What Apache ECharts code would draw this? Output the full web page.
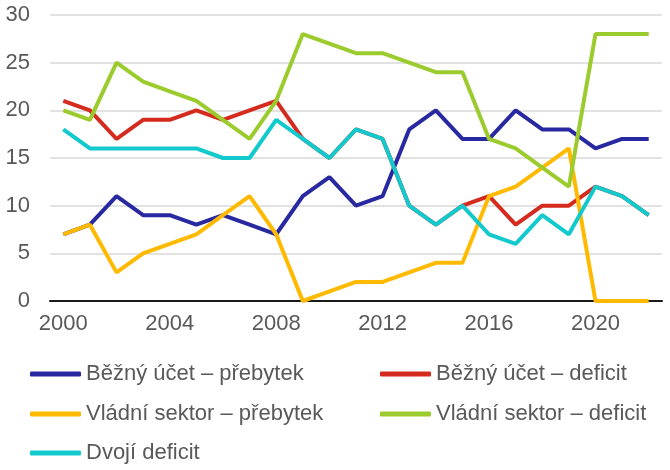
<!DOCTYPE html>
<html>
<head>
<meta charset="utf-8">
<script src="https://cdn.jsdelivr.net/npm/echarts@6/dist/echarts.min.js"></script>
<style>
  html, body { margin: 0; padding: 0; background: #fff; }
  #main { width: 670px; height: 470px; }
</style>
</head>
<body>
<div id="main"></div>
<script>
// roky 2000-2022
var years = ['2000','2001','2002','2003','2004','2005','2006','2007','2008','2009','2010','2011',
             '2012','2013','2014','2015','2016','2017','2018','2019','2020','2021','2022'];

// počty zemí
var bezUcetPrebytek = [7, 8, 11, 9, 9, 8, 9, 8, 7, 11, 13, 10, 11, 18, 20, 17, 17, 20, 18, 18, 16, 17, 17];
var bezUcetDeficit  = [21, 20, 17, 19, 19, 20, 19, 20, 21, 17, 15, 18, 17, 10, 8, 10, 11, 8, 10, 10, 12, 11, 9];
var vladPrebytek    = [7, 8, 3, 5, 6, 7, 9, 11, 7, 0, 1, 2, 2, 3, 4, 4, 11, 12, 14, 16, 0, 0, 0];
var vladDeficit     = [20, 19, 25, 23, 22, 21, 19, 17, 21, 28, 27, 26, 26, 25, 24, 24, 17, 16, 14, 12, 28, 28, 28];
var dvojiDeficit    = [18, 16, 16, 16, 16, 16, 15, 15, 19, 17, 15, 18, 17, 10, 8, 10, 7, 6, 9, 7, 12, 11, 9];

var names = ['Běžný účet – přebytek', 'Běžný účet – deficit', 'Vládní sektor – přebytek',
             'Vládní sektor – deficit', 'Dvojí deficit'];
var colors = ['#2828A0', '#D52B1E', '#FFBA00', '#9BCB2D', '#12C9CD'];
var values = [bezUcetPrebytek, bezUcetDeficit, vladPrebytek, vladDeficit, dvojiDeficit];

var font = 'Arial, "Liberation Sans", sans-serif';

var series = []
for (var i = 0; i < names.length; i++) {
    series.push({
        name: names[i],
        type: 'line',
        data: values[i],
        symbol: 'none',
        showSymbol: false,
        color: colors[i],
        lineStyle: {width: 4, color: colors[i]},
        animation: false
    })
}

// jedna položka legendy = jeden legend (2 sloupce)
var legendPos = [[30, 363], [380, 363], [30, 403], [380, 403], [30, 442]];
var legends = []
for (var j = 0; j < names.length; j++) {
    legends.push({
        left: legendPos[j][0],
        top: legendPos[j][1],
        padding: 0,
        itemWidth: 51,
        itemHeight: 5,
        icon: 'roundRect',
        textStyle: {color: '#595959', fontSize: 22, fontFamily: font, lineHeight: 22},
        data: [names[j]]
    })
}

var myChart = echarts.init(document.getElementById('main'));
myChart.setOption({
    animation: false,
    grid: {left: 50, right: 8, top: 15, bottom: 169, containLabel: false},
    legend: legends,
    xAxis: {
        type: 'category',
        data: years,
        boundaryGap: true,
        axisLine: {lineStyle: {color: '#1a1a1a', width: 2}},
        axisTick: {interval: 3, length: 6, lineStyle: {color: '#1a1a1a', width: 2}},
        axisLabel: {interval: 3, color: '#595959', fontSize: 22, fontFamily: font, margin: 12},
        splitLine: {show: false}
    },
    yAxis: {
        type: 'value',
        min: 0,
        max: 30,
        interval: 5,
        axisLine: {show: false},
        axisTick: {show: false},
        axisLabel: {color: '#595959', fontSize: 22, fontFamily: font, margin: 20},
        splitLine: {lineStyle: {color: '#d9d9d9', width: 1.5}}
    },
    series: series
});
</script>
</body>
</html>
